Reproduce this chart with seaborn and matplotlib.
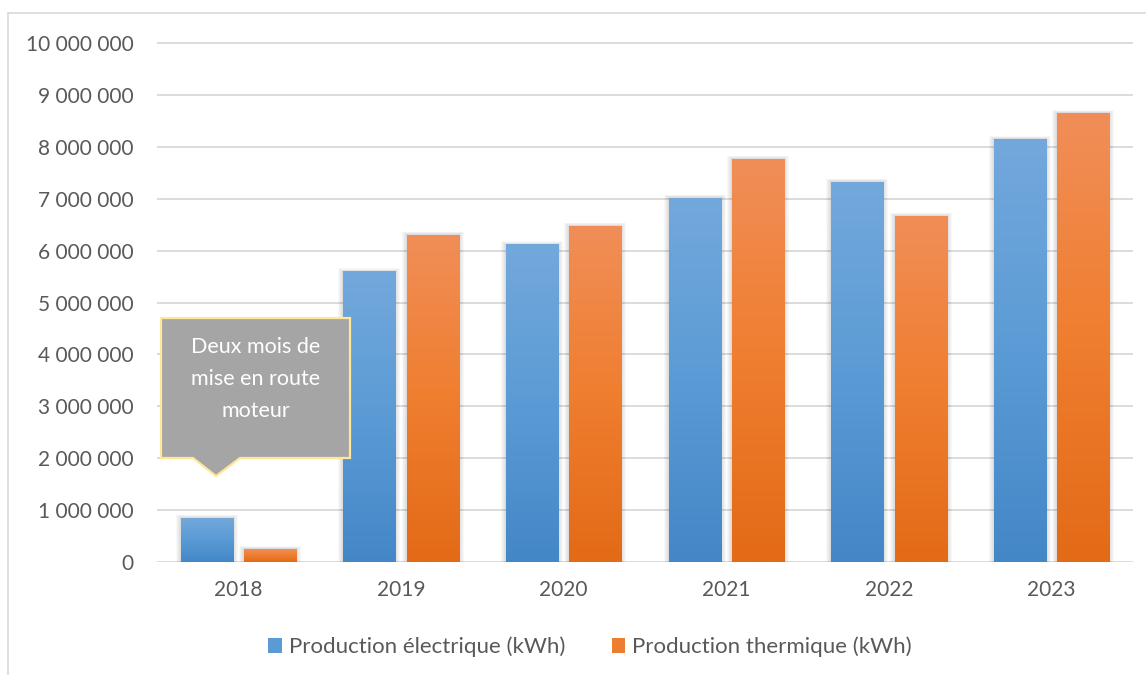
import numpy as np
import pandas as pd
import matplotlib
matplotlib.use("Agg")
import matplotlib.pyplot as plt
import seaborn as sns
from matplotlib.colors import LinearSegmentedColormap
from matplotlib.patches import Rectangle, Polygon
from matplotlib.lines import Line2D
from matplotlib.ticker import FuncFormatter, MultipleLocator

# Annual production figures
annees = ["2018", "2019", "2020", "2021", "2022", "2023"]
prod_electrique = [850000, 5600000, 6120000, 7020000, 7330000, 8150000]
prod_thermique = [250000, 6310000, 6480000, 7770000, 6670000, 8650000]
series = ["Production électrique (kWh)", "Production thermique (kWh)"]
note = "Deux mois de\nmise en route\nmoteur"

df = pd.DataFrame({
    "Année": annees * 2,
    "kWh": prod_electrique + prod_thermique,
    "Série": [series[0]] * len(annees) + [series[1]] * len(annees),
})

sns.set_theme(style="white")
plt.rcParams["font.family"] = ["Lato", "DejaVu Sans"]

W, H = 1146, 675
fig = plt.figure(figsize=(W / 100, H / 100), dpi=100)
ax = fig.add_axes([157 / W, 1 - 562 / H, (1133 - 157) / W, (562 - 42) / H])

palette = {series[0]: "#5B9BD5", series[1]: "#ED7D31"}
sns.barplot(data=df, x="Année", y="kWh", hue="Série", palette=palette,
            width=0.775, gap=0.175, saturation=1, legend=False, ax=ax, zorder=3)

ymax = 10_000_000
ax.set_xlim(-0.5, len(annees) - 0.5)
ax.set_ylim(0, ymax * 1.002)

# vertical gradient fill (light top, dark bottom) with a soft shadow
gradients = {
    series[0]: ["#4487C7", "#5B9BD5", "#73A8DC"],
    series[1]: ["#E36A17", "#EF7E2F", "#F18E58"],
}
px_x = 1.0 / 162.7
px_y = ymax / 520.0
for container, name in zip(ax.containers, series):
    cmap = LinearSegmentedColormap.from_list(name, gradients[name])
    for bar in container:
        x0, y0 = bar.get_x(), bar.get_y()
        w, h = bar.get_width(), bar.get_height()
        for k in range(1, 6):
            ax.add_patch(Rectangle((x0 - k * px_x, y0 - k * px_y),
                                   w + 2 * k * px_x, h + 1.6 * k * px_y,
                                   fc="black", ec="none", alpha=0.028, zorder=2.5))
        im = ax.imshow(np.linspace(0, 1, 256).reshape(-1, 1), cmap=cmap,
                       origin="lower", extent=[x0, x0 + w, y0, y0 + h],
                       aspect="auto", zorder=3.5, interpolation="bilinear")
        im.set_clip_path(bar)
        bar.set_facecolor("none")
        bar.set_edgecolor("none")

ax.set_xlim(-0.5, len(annees) - 0.5)
ax.set_ylim(0, ymax * 1.002)

ax.yaxis.set_major_locator(MultipleLocator(1_000_000))
ax.yaxis.set_major_formatter(FuncFormatter(lambda v, p: f"{int(round(v)):,}".replace(",", " ")))
ax.yaxis.grid(True, color="#D9D9D9", lw=1.3)
ax.set_axisbelow(True)
for s in ax.spines.values():
    s.set_visible(False)
ax.set_xlabel("")
ax.set_ylabel("")
ax.tick_params(axis="y", length=0, pad=17, labelsize=15, labelcolor="#595959")
ax.tick_params(axis="x", length=0, pad=13, labelsize=15, labelcolor="#595959")

# legend beneath the plot
handles = [Rectangle((0, 0), 1, 1, fc=palette[s], ec="none") for s in series]
fig.legend(handles=handles, labels=series, loc="center",
           bbox_to_anchor=(590 / W, 1 - 647 / H), ncol=2, frameon=False,
           fontsize=16, handlelength=0.6, handleheight=0.65,
           handletextpad=0.32, columnspacing=2.1, labelcolor="#595959")

# callout note for 2018
def fp(x, y):
    return (x / W, 1 - y / H)

pts = [fp(161, 318), fp(350, 318), fp(350, 458), fp(240, 458),
       fp(216, 476), fp(193, 458), fp(161, 458)]
fig.add_artist(Polygon(pts, closed=True, transform=fig.transFigure,
                       fc="#A5A5A5", ec="#FFE699", lw=1.6, zorder=5))
fig.text(255.5 / W, 1 - 379 / H, note, ha="center", va="center",
         color="white", fontsize=15.5, linespacing=1.72, zorder=6)

# chart frame
fig.add_artist(Line2D([8 / W, 8 / W], [0, 1 - 13 / H], transform=fig.transFigure,
                      color="#D9D9D9", lw=1.2))
fig.add_artist(Line2D([8 / W, 1], [1 - 13 / H, 1 - 13 / H], transform=fig.transFigure,
                      color="#D9D9D9", lw=1.2))

fig.savefig("out.png", dpi=100, facecolor="white")
